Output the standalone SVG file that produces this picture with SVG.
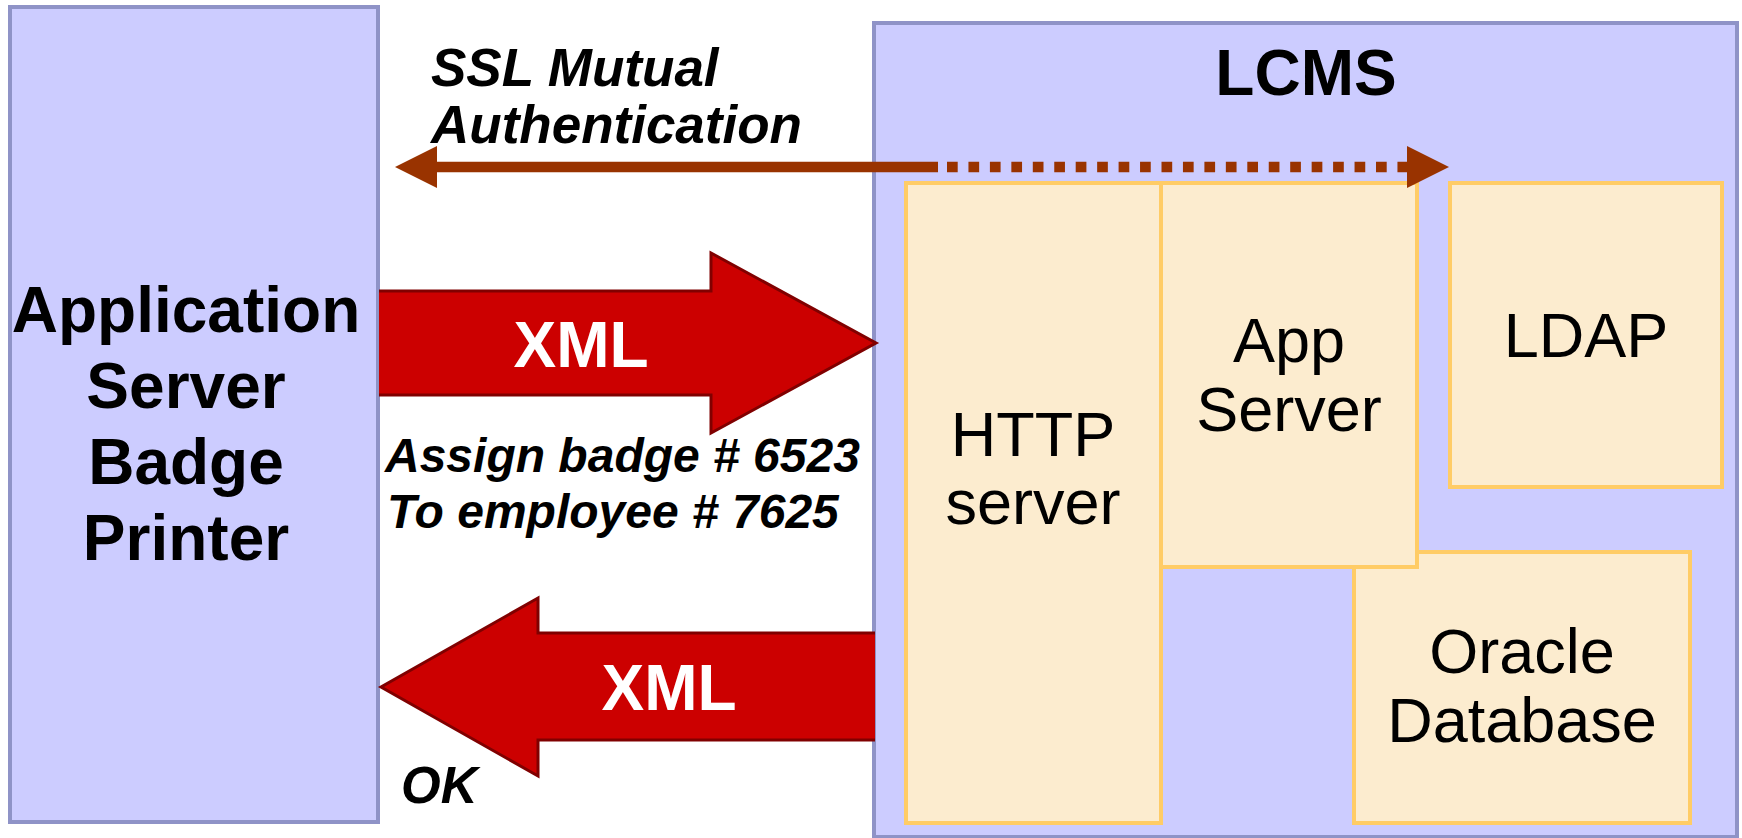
<svg xmlns="http://www.w3.org/2000/svg" width="1742" height="838" viewBox="0 0 1742 838">
<style>
.sys{fill:#CCCCFF;stroke:#8F93C7;stroke-width:4}
.comp{fill:#FCECCF;stroke:#FFCC66;stroke-width:4}
.big{font-family:"Liberation Sans",Arial,sans-serif;font-weight:bold;font-size:64px;fill:#000;text-anchor:middle}
.reg{font-family:"Liberation Sans",Arial,sans-serif;font-size:63px;fill:#000;text-anchor:middle}
.lbl{font-family:"Liberation Sans",Arial,sans-serif;font-weight:bold;font-style:italic;fill:#000}
.xml{font-family:"Liberation Sans",Arial,sans-serif;font-weight:bold;font-size:64px;fill:#FFFFFF;text-anchor:middle}
.fat{fill:#CC0000;stroke:#800000;stroke-width:3;stroke-linejoin:miter}
.ssl{stroke:#993300;stroke-width:10.5;fill:none}
.head{fill:#993300}
</style>
<rect width="1742" height="838" fill="#FFFFFF"/>
<g id="app-server">
<rect class="sys" x="10" y="7" width="368" height="815"/>
<text class="big" x="186" y="332">Application</text>
<text class="big" x="186" y="408">Server</text>
<text class="big" x="186" y="484">Badge</text>
<text class="big" x="186" y="560">Printer</text>
</g>
<g id="lcms">
<rect class="sys" x="874" y="23" width="863" height="814"/>
<text class="big" x="1306" y="95">LCMS</text>
</g>
<g id="oracle">
<rect class="comp" x="1354" y="552" width="336" height="271"/>
<text class="reg" x="1522" y="673">Oracle</text>
<text class="reg" x="1522" y="742">Database</text>
</g>
<g id="http-server">
<rect class="comp" x="906" y="183" width="255" height="640"/>
<text class="reg" x="1033" y="456">HTTP</text>
<text class="reg" x="1033" y="524">server</text>
</g>
<g id="app-server-lcms">
<rect class="comp" x="1161" y="183" width="256" height="384"/>
<text class="reg" x="1289" y="362">App</text>
<text class="reg" x="1289" y="431">Server</text>
</g>
<g id="ldap">
<rect class="comp" x="1450" y="183" width="272" height="304"/>
<text class="reg" x="1586" y="357">LDAP</text>
</g>
<g id="connectors">
<g id="ssl">
<line class="ssl" x1="436" y1="167" x2="938" y2="167"/>
<line class="ssl" x1="947" y1="167" x2="1408" y2="167" stroke-dasharray="10.7 10.75"/>
<polygon class="head" points="395,167 437,146 437,188"/>
<polygon class="head" points="1449,167 1407,146 1407,188"/>
<text class="lbl" x="431" y="86" font-size="53">SSL Mutual</text>
<text class="lbl" x="431" y="143" font-size="53">Authentication</text>
</g>
<g id="xml-request">
<path class="fat" d="M379,291 L711,291 L711,253 L876,343 L711,433 L711,395 L379,395"/>
<text class="xml" x="581" y="367">XML</text>
<text class="lbl" x="385" y="472" font-size="48">Assign badge # 6523</text>
<text class="lbl" x="387" y="528" font-size="48">To employee # 7625</text>
</g>
<g id="xml-response">
<path class="fat" d="M875,633 L538,633 L538,598 L381,687 L538,776 L538,740 L875,740"/>
<text class="xml" x="669" y="710">XML</text>
<text class="lbl" x="401" y="803" font-size="51">OK</text>
</g>
</g>
</svg>
